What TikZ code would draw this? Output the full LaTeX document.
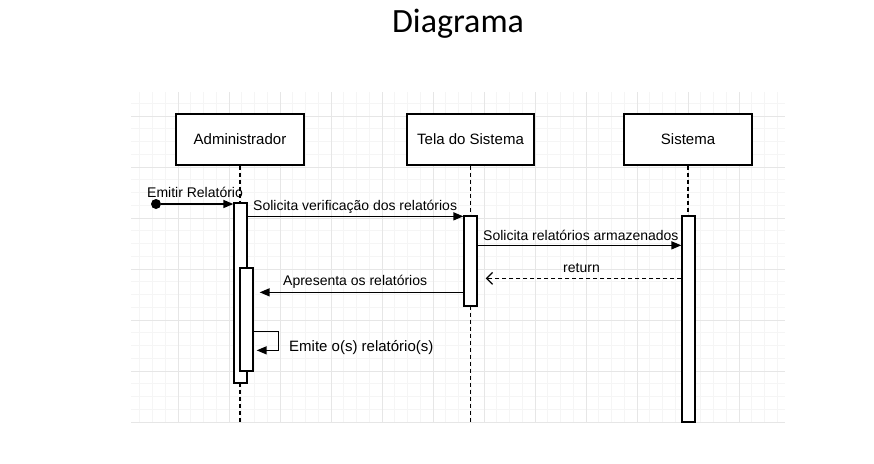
\documentclass[tikz,border=0pt]{standalone}
\usepackage{fontspec}
\setmainfont{Liberation Sans}
\newfontfamily\titlefont{Carlito}
\usetikzlibrary{arrows.meta,calc}
\definecolor{gridminor}{HTML}{F5F5F5}
\definecolor{gridmajor}{HTML}{E6E6E6}
\tikzset{
  actor/.style={draw=black, line width=1.3pt, fill=white, minimum width=128pt, minimum height=51pt, inner sep=0pt, font=\fontsize{15}{18}\selectfont},
  actbar/.style={draw=black, line width=1.3pt, fill=white, minimum width=13pt, inner sep=0pt},
  lifeline/.style={black, line width=1.1pt, dash pattern=on 4pt off 3pt},
  msg/.style={black, line width=1.4pt, -{Triangle[length=10pt,width=8pt]}},
  ret/.style={black, line width=1.1pt, dash pattern=on 4pt off 3pt, -{Straight Barb[length=6pt,width=12pt,line width=1.3pt]}},
  lbl/.style={inner sep=0pt, anchor=base west, font=\fontsize{14}{17}\selectfont},
  lblbig/.style={inner sep=0pt, anchor=base west, font=\fontsize{15}{18}\selectfont}
}
\begin{document}
\begin{tikzpicture}[x=1pt,y=-1pt]
\useasboundingbox (0,0) rectangle (874,463);
% grid
\begin{scope}
\clip (131,92) rectangle (785,422);
\foreach \k in {-3,...,47} \draw[gridminor, line width=1pt] ({739-12.75*\k},92) -- ({739-12.75*\k},422);
\foreach \k in {0,...,26} \draw[gridminor, line width=1pt] (131,{422-12.75*\k}) -- (785,{422-12.75*\k});
\foreach \k in {0,...,11} \draw[gridmajor, line width=1pt] ({739-51*\k},92) -- ({739-51*\k},422);
\foreach \k in {0,...,6} \draw[gridmajor, line width=1pt] (131,{422-51*\k}) -- (785,{422-51*\k});
\end{scope}
% title
\node[inner sep=0pt, anchor=base] (title) at (458,32) {\titlefont\fontsize{34}{40}\selectfont Diagrama};
% actors
\node[actor] (adm) at (240,139.5) {Administrador};
\node[actor, minimum width=127pt] (tela) at (470.5,139.5) {Tela do Sistema};
\node[actor] (sis) at (688,139.5) {Sistema};
\coordinate (bottom) at (0,422);
% lifelines
\draw[lifeline] (adm.south) -- (adm.south |- bottom);
\draw[lifeline] (tela.south) -- (tela.south |- bottom);
\draw[lifeline] (sis.south) -- (sis.south |- bottom);
% activation bars
\node[actbar, minimum height=180pt] (adm1) at (240.5,293) {};
\node[actbar, minimum height=103pt] (adm2) at (246.5,319.5) {};
\node[actbar, minimum height=90pt] (tela1) at (470.5,261) {};
\node[actbar, minimum height=206pt] (sis1) at (688.5,319) {};
% start
\node[circle, fill=black, inner sep=0pt, minimum size=10pt] (start) at (156,204) {};
\draw[msg] (start) -- (start -| adm1.west);
\node[lbl] (l0) at (147,197) {Emitir Relatório};
% verificacao
\coordinate (m2) at ($(adm1.north east)+(0,14)$);
\draw[msg] (m2) -- (m2 -| tela1.west);
\node[lbl] (l1) at (253,210) {Solicita verificação dos relatórios};
% armazenados
\coordinate (m3) at ($(tela1.north east)+(0,30)$);
\draw[msg] (m3) -- (m3 -| sis1.west);
\node[lbl] (l2) at (483,240) {Solicita relatórios armazenados};
% return
\coordinate (r1) at ($(sis1.north west)+(0,63)$);
\draw[ret, shorten >=8pt] (r1) -- (r1 -| tela1.east);
\node[lbl, anchor=base] (l3) at (581.5,272) {return};
% apresenta
\coordinate (a1) at ($(tela1.north west)+(0,77)$);
\draw[msg, shorten >=6pt] (a1) -- (a1 -| adm2.east);
\node[lbl] (l4) at (283,285) {Apresenta os relatórios};
% self message
\coordinate (s1) at ($(adm2.north east)+(0,64)$);
\coordinate (s2) at ($(adm2.north east)+(0,83)$);
\draw[msg, shorten >=3pt] (s1) -- ++(25,0) |- (s2);
\node[lblbig] (l5) at (289,351) {Emite o(s) relatório(s)};
\end{tikzpicture}
\end{document}
